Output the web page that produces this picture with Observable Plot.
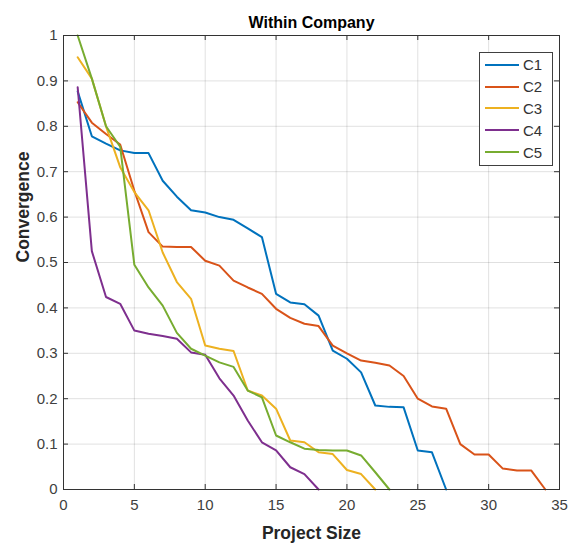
<!DOCTYPE html>
<html><head><meta charset="utf-8">
<script src="https://cdn.jsdelivr.net/npm/d3@7"></script>
<script src="https://cdn.jsdelivr.net/npm/@observablehq/plot@0.6"></script>
<style>
body{margin:0;background:#fff;font-family:"Liberation Sans",Arial,sans-serif;}
#wrap{position:relative;width:571px;height:545px;}
#legend{position:absolute;left:479px;top:52px;width:74px;height:114px;border:1px solid #404040;background:#fff;box-sizing:border-box;padding-top:1px;}
.row{height:21.8px;display:flex;align-items:center;}
.sw{width:34px;height:2px;margin-left:5px;margin-right:4px;}
.lb{font-size:15px;color:#333;}
</style>
</head><body>
<div id="wrap"><div id="chart"></div><div id="legend"></div></div>
<script>
const names = ["C1","C2","C3","C4","C5"];
const colors = ["#0072BD","#D95319","#EDB120","#7E2F8E","#77AC30"];
const c1 = [0.877,0.778,0.762,0.747,0.741,0.741,0.68,0.645,0.615,0.61,0.6,0.594,0.575,0.556,0.431,0.412,0.408,0.383,0.306,0.288,0.258,0.185,0.182,0.181,0.086,0.082,0];
const c2 = [0.853,0.808,0.783,0.76,0.658,0.567,0.535,0.534,0.534,0.504,0.493,0.46,0.445,0.431,0.398,0.378,0.365,0.36,0.317,0.3,0.284,0.279,0.273,0.25,0.2,0.183,0.178,0.1,0.077,0.077,0.046,0.042,0.042,0];
const c3 = [0.952,0.905,0.8,0.71,0.655,0.615,0.522,0.457,0.42,0.317,0.31,0.305,0.218,0.207,0.178,0.108,0.104,0.082,0.078,0.043,0.034,0];
const c4 = [0.886,0.525,0.424,0.409,0.35,0.343,0.338,0.332,0.302,0.297,0.245,0.207,0.152,0.104,0.086,0.049,0.034,0];
const c5 = [1.0,0.905,0.8,0.755,0.495,0.445,0.405,0.345,0.31,0.295,0.28,0.27,0.218,0.203,0.119,0.104,0.09,0.087,0.086,0.086,0.075,0.038,0];
const xTicks = [0,5,10,15,20,25,30,35];
const xTickLabels = ["0","5","10","15","20","25","30","35"];
const yTicks = [0,0.1,0.2,0.3,0.4,0.5,0.6,0.7,0.8,0.9,1];
const yTickLabels = ["0","0.1","0.2","0.3","0.4","0.5","0.6","0.7","0.8","0.9","1"];
const title = "Within Company";
const xLabel = "Project Size";
const yLabel = "Convergence";

const series = [c1,c2,c3,c4,c5];
const data = series.flatMap((s,k) => s.map((v,i) => ({x:i+1, y:v, s:names[k]})));

const W = 571, H = 545, mT = 35, mB = 56, mL = 63, mR = 12;
const pw = W - mL - mR, ph = H - mT - mB, tk = 5;

const chart = Plot.plot({
  width: W, height: H,
  marginTop: mT, marginBottom: mB, marginLeft: mL, marginRight: mR,
  style: {fontFamily: "'Liberation Sans', Arial, sans-serif", fontSize: "15px", color: "#404040", background: "#fff"},
  x: {domain: [0,35]},
  y: {domain: [0,1]},
  color: {domain: names, range: colors},
  marks: [
    Plot.gridX(xTicks, {stroke: "#000", strokeOpacity: 0.12}),
    Plot.gridY(yTicks, {stroke: "#000", strokeOpacity: 0.12}),
    Plot.axisX(xTicks, {tickSize: 0, tickPadding: 10, tickFormat: (d,i) => xTickLabels[i], label: null}),
    Plot.axisY(yTicks, {tickSize: 0, tickPadding: 6, tickFormat: (d,i) => yTickLabels[i], label: null}),
    Plot.line(data, {x: "x", y: "y", stroke: "s", z: "s", strokeWidth: 2, curve: "linear"}),
    Plot.ruleX(xTicks, {stroke: "#333", insetTop: ph - tk}),
    Plot.ruleX(xTicks, {stroke: "#333", insetBottom: ph - tk}),
    Plot.ruleY(yTicks, {stroke: "#333", insetRight: pw - tk}),
    Plot.ruleY(yTicks, {stroke: "#333", insetLeft: pw - tk}),
    Plot.frame({stroke: "#333", strokeWidth: 1}),
    Plot.text([title], {frameAnchor: "top", dy: -19, fontWeight: "bold", fontSize: 16, fill: "#000"}),
    Plot.text([xLabel], {frameAnchor: "bottom", dy: 49, fontWeight: "bold", fontSize: 17.5, fill: "#262626"}),
    Plot.text([yLabel], {frameAnchor: "left", dx: -40, rotate: -90, fontWeight: "bold", fontSize: 17.5, fill: "#262626"})
  ]
});
document.getElementById("chart").appendChild(chart);

const leg = document.getElementById("legend");
names.forEach((n,k) => {
  const r = document.createElement("div"); r.className = "row";
  const sw = document.createElement("div"); sw.className = "sw"; sw.style.background = colors[k];
  const lb = document.createElement("span"); lb.className = "lb"; lb.textContent = n;
  r.appendChild(sw); r.appendChild(lb); leg.appendChild(r);
});
</script>
</body></html>
